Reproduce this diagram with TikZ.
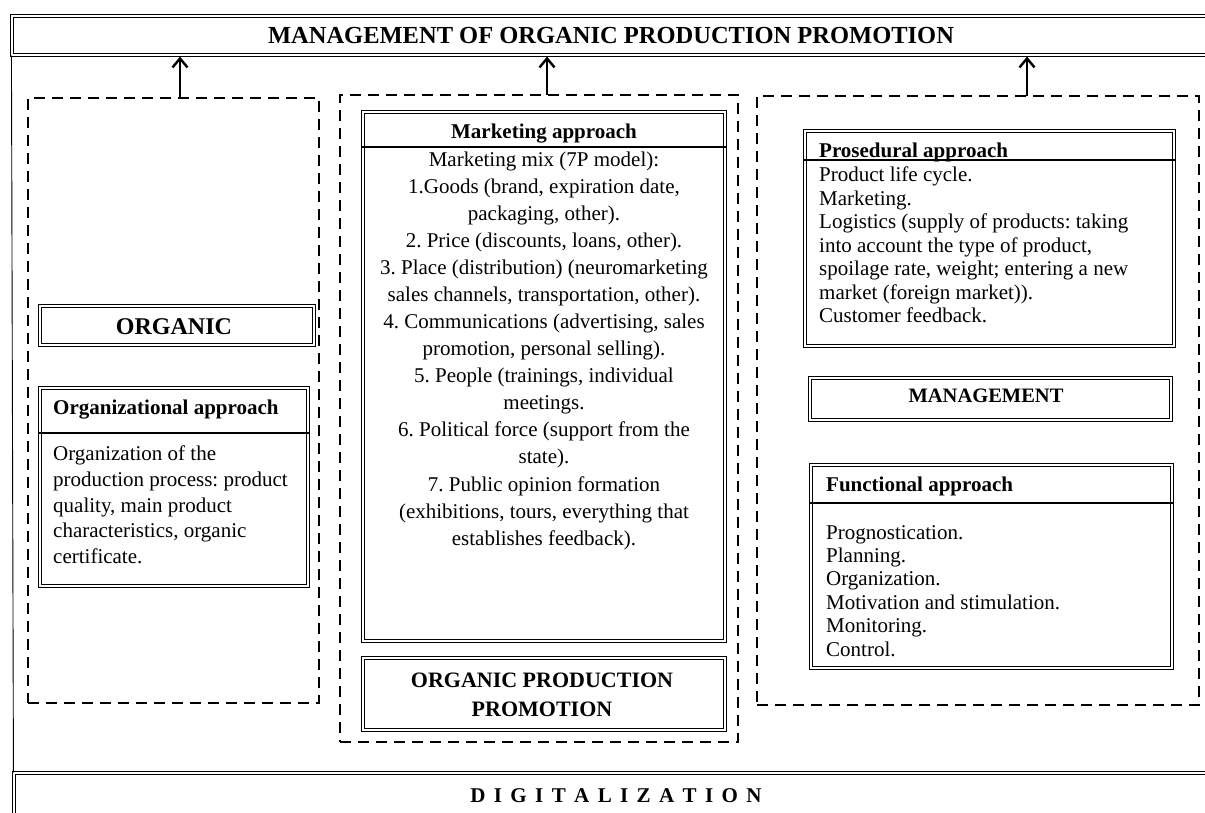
\documentclass[tikz,border=0pt]{standalone}
\usepackage{fontspec}
\setmainfont{Liberation Serif}
\usetikzlibrary{arrows.meta}
\frenchspacing
\newcommand\dblbox[5]{\node[dbl, minimum width={#4-#2-3.8}, minimum height={#5-#3-3.8}] (#1) at ({(#2+#4)/2},{(#3+#5)/2}) {};}
\newcommand\dashedbox[5]{\node[dashbox, minimum width={#4-#2}, minimum height={#5-#3}] (#1) at ({(#2+#4)/2},{(#3+#5)/2}) {};}
\newcommand\ls{\hspace{8.4pt}}
\begin{document}
\begin{tikzpicture}[x=1pt,y=-1pt,
  dbl/.style={draw, double, double distance=2pt, line width=0.9pt, inner sep=0pt},
  dashbox/.style={draw, line width=2.6pt, dash pattern=on 11pt off 7pt, inner sep=0pt},
  sepline/.style={line width=1.1pt},
  arr/.style={line width=2.6pt, shorten >=1pt, -{Straight Barb[length=9pt,width=15pt,line width=2.4pt]}},
  frameline/.style={line width=0.9pt},
  body/.style={inner sep=0pt, font=\fontsize{21}{#1}\selectfont},
  head/.style={inner sep=0pt, font=\fontsize{21}{25}\selectfont\bfseries},
  cap/.style={inner sep=0pt, font=\fontsize{#1}{28.5}\selectfont\bfseries},
]
\useasboundingbox (0,0) rectangle (1205,812);
\clip (0,0) rectangle (1205,812);

% outer frame boxes
\dblbox{top}{10}{14}{1230}{57}
\dblbox{bot}{12}{771}{1230}{850}
\draw[frameline] (top.south west) -- (bot.north west);
\node[cap=24.5, anchor=base] (title) at (611,43.5) {MANAGEMENT OF ORGANIC PRODUCTION PROMOTION};
\node[cap=21, anchor=base] (dig) at (616,802) {D\ls I\ls G\ls I\ls T\ls A\ls L\ls I\ls Z\ls A\ls T\ls I\ls O\ls N};

% dashed groups
\dashedbox{gl}{28}{98}{319}{703}
\dashedbox{gm}{340}{95}{738}{742}
\dashedbox{gr}{757}{96}{1199}{705}

\coordinate (al) at (180,98);
\coordinate (am) at (547,95);
\coordinate (ar) at (1027,96);
\draw[arr] (al) -- (al |- top.south);
\draw[arr] (am) -- (am |- top.south);
\draw[arr] (ar) -- (ar |- top.south);

% left column
\dblbox{org}{38}{304}{316}{347}
\node[cap=24, anchor=base] (orgt) at (174,334) {ORGANIC};
\dblbox{orgapp}{38}{386}{310}{588}
\coordinate (s1) at (0,433);
\draw[sepline] (orgapp.west |- s1) -- (orgapp.east |- s1);
\node[head, anchor=base west] (orgh) at (53,414) {Organizational approach};
\node[body=25.75, anchor=north west, align=left] (orgb) at (53,442.5)
  {\strut Organization of the\\production process: product\\quality, main product\\characteristics, organic\\certificate.};

% middle column
\dblbox{mkt}{361}{110}{727}{643}
\coordinate (s2) at (0,147);
\draw[sepline] (mkt.west |- s2) -- (mkt.east |- s2);
\node[head, anchor=base] (mkth) at (544,138.5) {Marketing approach};
\node[body=27.07, anchor=north, align=center] (mktb) at (544,147.05)
  {\strut Marketing mix (7P model):\\1.Goods (brand, expiration date,\\packaging, other).\\2. Price (discounts, loans, other).\\3. Place (distribution) (neuromarketing\\sales channels, transportation, other).\\4. Communications (advertising, sales\\promotion, personal selling).\\5. People (trainings, individual\\meetings.\\6. Political force (support from the\\state).\\7. Public opinion formation\\(exhibitions, tours, everything that\\establishes feedback).};
\dblbox{opp}{361}{656}{727}{732}
\node[cap=22, anchor=north, align=center] (oppt) at (542,667.55) {\strut ORGANIC PRODUCTION\\PROMOTION};

% right column
\dblbox{pros}{803}{129}{1176}{348}
\coordinate (s3) at (0,160);
\draw[sepline] (pros.west |- s3) -- (pros.east |- s3);
\node[head, anchor=base west] (prosh) at (819,157.5) {Prosedural approach};
\node[body=23.43, anchor=north west, align=left] (prosb) at (819,165.3)
  {\strut Product life cycle.\\Marketing.\\Logistics (supply of products: taking\\into account the type of product,\\spoilage rate, weight; entering a new\\market (foreign market)).\\Customer feedback.};
\dblbox{mgmt}{808}{376}{1173}{422}
\node[cap=20.5, anchor=base] (mgmtt) at (986,402.5) {MANAGEMENT};
\dblbox{func}{809}{463}{1174}{670}
\coordinate (s4) at (0,503);
\draw[sepline] (func.west |- s4) -- (func.east |- s4);
\node[head, anchor=base west] (funch) at (826,491) {Functional approach};
\node[body=23.4, anchor=north west, align=left] (funcb) at (826,522.6)
  {\strut Prognostication.\\Planning.\\Organization.\\Motivation and stimulation.\\Monitoring.\\Control.};
\end{tikzpicture}
\end{document}
